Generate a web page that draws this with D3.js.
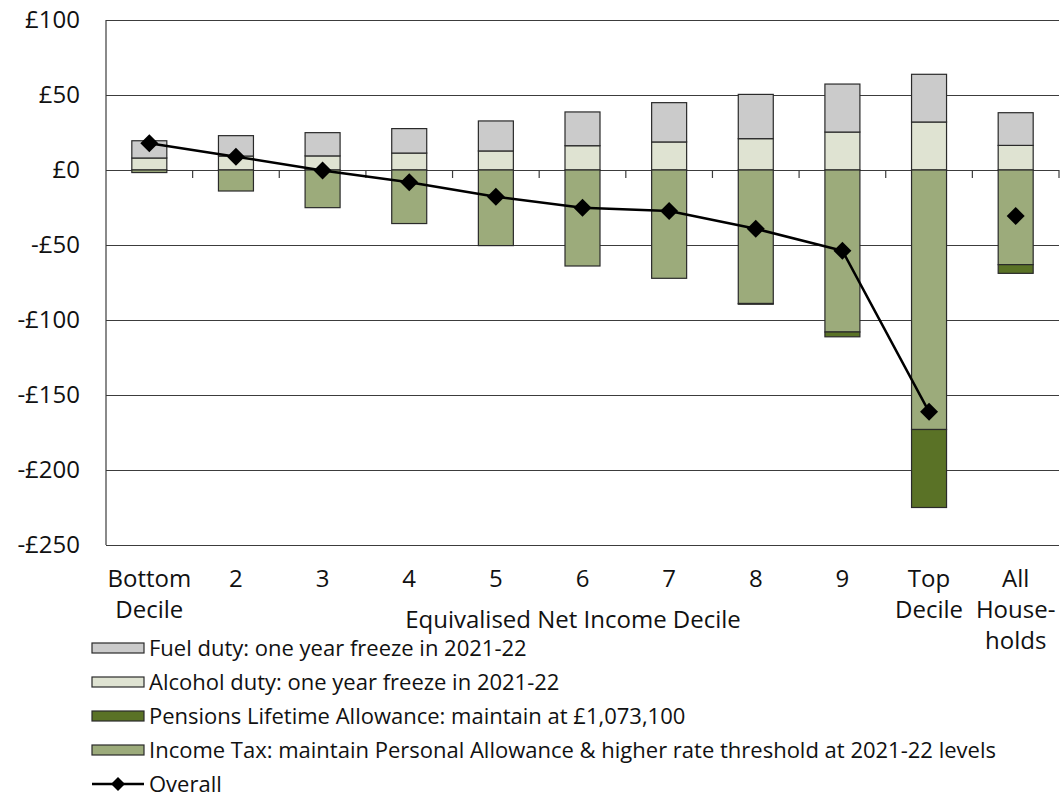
<!DOCTYPE html>
<html>
<head>
<meta charset="utf-8">
<script src="https://cdn.jsdelivr.net/npm/d3@7"></script>
<style>
  body { margin: 0; background: #fff; }
  svg { display: block; font-family: "Open Sans", sans-serif; }
</style>
</head>
<body>
<script>
// Data (£ per household per year)
const categories = ["Bottom\nDecile", "2", "3", "4", "5", "6", "7", "8", "9", "Top\nDecile", "All\nHouse-\nholds"];
const alcoholDuty = [8, 9.3, 9.4, 11.3, 12.7, 16.2, 18.7, 20.9, 25.3, 32, 16.4];
const fuelDuty = [11.5, 13.6, 15.5, 16.3, 20, 22.5, 26.2, 29.5, 32, 31.8, 21.8];
const incomeTax = [-1.7, -14, -25.1, -35.7, -50.4, -64, -72.2, -89, -108, -173, -63.1];
const pensionsLTA = [0, 0, 0, 0, 0, 0, 0, -0.5, -3.2, -52, -5.8];
const overall = [17.8, 8.9, -0.3, -8.2, -17.8, -25.2, -27.3, -39.2, -53.8, -161.2, -30.7];
const yTicks = [100, 50, 0, -50, -100, -150, -200, -250];

const seriesInfo = [
    { key: "alcohol", values: alcoholDuty, color: "#dfe3d2" },
    { key: "fuel", values: fuelDuty, color: "#cbcbcb" },
    { key: "incomeTax", values: incomeTax, color: "#9cab7b" },
    { key: "pensions", values: pensionsLTA, color: "#5a7226" }
];

const legendItems = [
    { label: "Fuel duty: one year freeze in 2021-22", color: "#cbcbcb" },
    { label: "Alcohol duty: one year freeze in 2021-22", color: "#dfe3d2" },
    { label: "Pensions Lifetime Allowance: maintain at £1,073,100", color: "#5a7226" },
    { label: "Income Tax: maintain Personal Allowance & higher rate threshold at 2021-22 levels", color: "#9cab7b" },
    { label: "Overall", line: true }
];

let width = 1062;
let height = 800;
let marginLeft = 106;
let marginRight = 3;
let marginTop = 20;
let plotBottom = 545;
let barWidth = 35;

// table for d3.stack
let table = categories.map((c, i) => {
    let row = { cat: c };
    seriesInfo.forEach(s => row[s.key] = s.values[i]);
    return row;
});

let stacked = d3.stack()
    .keys(seriesInfo.map(s => s.key))
    .offset(d3.stackOffsetDiverging)(table);

let x = d3.scaleBand()
    .domain(categories)
    .range([marginLeft, width - marginRight])
    .padding(0);

let y = d3.scaleLinear()
    .domain([-250, 100])
    .range([plotBottom, marginTop]);

let svg = d3.select("body").append("svg")
    .attr("width", width)
    .attr("height", height)
    .attr("viewBox", [0, 0, width, height]);

// Gridlines + y labels
svg.append("g")
    .attr("transform", `translate(${marginLeft},0)`)
    .call(d3.axisLeft(y)
        .tickValues(yTicks)
        .tickSize(-(width - marginRight - marginLeft))
        .tickPadding(26)
        .tickFormat(d => d < 0 ? "-£" + (-d) : "£" + d))
    .call(g => g.select(".domain").remove())
    .call(g => g.selectAll(".tick line").attr("stroke", "#3c3c3c").attr("stroke-width", 1.2))
    .call(g => g.selectAll(".tick text")
        .attr("fill", "#111")
        .attr("font-size", "24px")
        .attr("font-family", "'Open Sans', sans-serif"));

// left axis line
svg.append("line")
    .attr("x1", marginLeft).attr("x2", marginLeft)
    .attr("y1", y(100)).attr("y2", y(-250))
    .attr("stroke", "#3c3c3c")
    .attr("stroke-width", 1.2);

// Bars
const colorOf = Object.fromEntries(seriesInfo.map(s => [s.key, s.color]));
svg.append("g")
    .selectAll("g")
    .data(stacked)
    .join("g")
    .attr("fill", d => colorOf[d.key])
    .selectAll("rect")
    .data(d => d.filter(p => p[1] - p[0] !== 0))
    .join("rect")
    .attr("x", d => x(d.data.cat) + x.bandwidth() / 2 - barWidth / 2)
    .attr("y", d => y(d[1]))
    .attr("width", barWidth)
    .attr("height", d => y(d[0]) - y(d[1]))
    .attr("stroke", "#2a2a2a")
    .attr("stroke-width", 1.2);

// category ticks on the zero line
svg.append("g")
    .selectAll("line")
    .data(categories)
    .join("line")
    .attr("x1", d => x(d) + x.bandwidth())
    .attr("x2", d => x(d) + x.bandwidth())
    .attr("y1", y(0))
    .attr("y2", y(0) + 8)
    .attr("stroke", "#3c3c3c")
    .attr("stroke-width", 1.2);

// Overall line (deciles only) + diamonds
const line = d3.line()
    .x((d, i) => x(categories[i]) + x.bandwidth() / 2)
    .y(d => y(d));

svg.append("path")
    .attr("d", line(overall.slice(0, 10)))
    .attr("fill", "none")
    .attr("stroke", "#000")
    .attr("stroke-width", 2.5)
    .attr("stroke-linejoin", "round");

const diamond = "M0,-9L9,0L0,9L-9,0Z";
svg.append("g")
    .selectAll("path")
    .data(overall)
    .join("path")
    .attr("d", diamond)
    .attr("transform", (d, i) => `translate(${x(categories[i]) + x.bandwidth() / 2},${y(d)})`)
    .attr("fill", "#000");

// Category labels (multi-line)
const labels = svg.append("g")
    .attr("font-size", "24px")
    .attr("fill", "#111")
    .attr("text-anchor", "middle");

labels.selectAll("text")
    .data(categories)
    .join("text")
    .attr("x", d => x(d) + x.bandwidth() / 2)
    .attr("y", plotBottom + 42)
    .each(function(d) {
        let t = d3.select(this);
        let cx = x(d) + x.bandwidth() / 2;
        d.split("\n").forEach((part, k) => {
            t.append("tspan")
                .attr("x", cx)
                .attr("dy", k === 0 ? 0 : 31)
                .text(part);
        });
    });

// axis title
svg.append("text")
    .attr("x", 573)
    .attr("y", 628)
    .attr("text-anchor", "middle")
    .attr("font-size", "24px")
    .attr("fill", "#111")
    .text("Equivalised Net Income Decile");

// Legend
const legend = svg.append("g")
    .attr("transform", "translate(92, 648)");

legendItems.forEach((d, i) => {
    const row = legend.append("g")
        .attr("transform", `translate(0, ${i * 34})`);
    if (d.line) {
        row.append("line")
            .attr("x1", 0).attr("x2", 52)
            .attr("stroke", "#000")
            .attr("stroke-width", 2.5);
        row.append("path")
            .attr("d", "M0,-7L7,0L0,7L-7,0Z")
            .attr("transform", "translate(26,0)")
            .attr("fill", "#000");
    } else {
        row.append("rect")
            .attr("x", 0)
            .attr("y", -5)
            .attr("width", 52)
            .attr("height", 10)
            .attr("fill", d.color)
            .attr("stroke", "#2a2a2a")
            .attr("stroke-width", 1.2);
    }
    row.append("text")
        .attr("x", 57)
        .attr("y", 0)
        .attr("dy", "0.35em")
        .attr("font-size", "22px")
        .attr("fill", "#111")
        .text(d.label);
});
</script>
</body>
</html>
